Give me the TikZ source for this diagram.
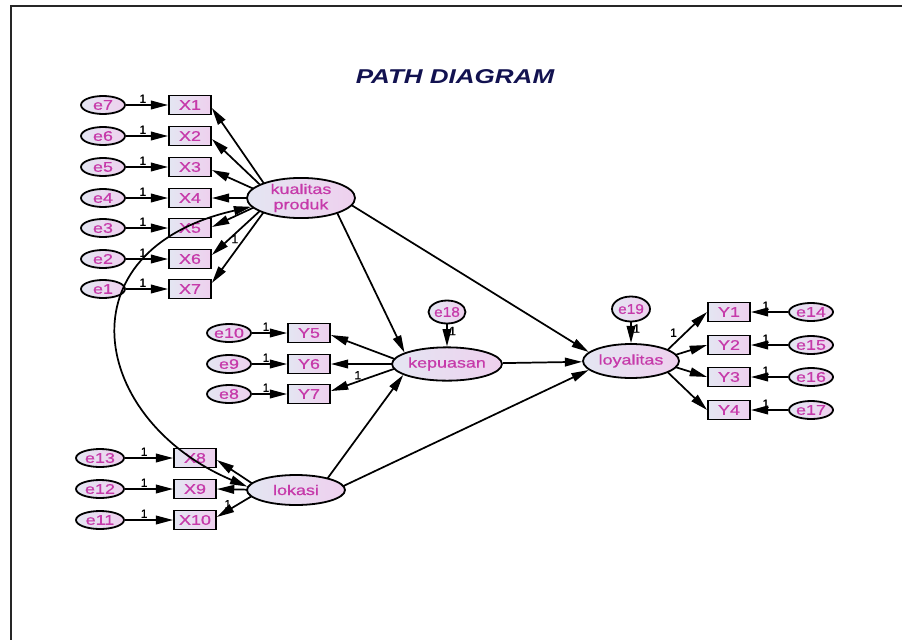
\documentclass[tikz,border=0pt]{standalone}
\usepackage{fontspec}
\setmainfont{Liberation Sans}
\newfontfamily\amosfont[FakeBold=0.7]{Liberation Sans}
\usetikzlibrary{arrows.meta,shapes.geometric,backgrounds,calc}
\definecolor{txt}{RGB}{198,58,170}
\definecolor{fillL}{RGB}{228,230,242}
\definecolor{fillR}{RGB}{238,208,238}
\definecolor{navy}{RGB}{18,18,80}
\newcommand{\sx}[1]{\scalebox{1.28}[1]{#1}}
\begin{document}
\begin{tikzpicture}[x=0.75pt,y=-0.75pt,
  every node/.style={font=\amosfont\fontsize{10.5}{11.5}\selectfont, text=txt},
  base/.style={draw=black, line width=1.35pt, left color=fillL, right color=fillR, inner sep=0pt},
  obs/.style={base, rectangle, minimum width=31.5pt, minimum height=14.25pt},
  err/.style={base, ellipse, minimum width=33pt, minimum height=13.5pt},
  lat/.style={base, ellipse, minimum width=80pt, minimum height=26pt},
  one/.style={font=\amosfont\fontsize{9}{10}\selectfont, text=black, inner sep=1pt},
  arr/.style={-{Triangle[length=13pt,width=6.5pt]}, line width=1.3pt, black},
  cov/.style={{Triangle[length=13pt,width=6.5pt]}-{Triangle[length=13pt,width=6.5pt]}, line width=1.3pt, black},
  frame/.style={line width=1.6pt, black!85}
]
\useasboundingbox (0,0) rectangle (902,639);
\draw[frame] (11,645) -- (11,6) -- (910,6);

\node[font=\fontsize{15}{16}\selectfont\bfseries\itshape, text=navy] (title) at (455,77) {\scalebox{1.3}[1]{PATH DIAGRAM}};

% observed X1-X7 and errors
\foreach \i/\e/\y in {1/7/105, 2/6/136, 3/5/167, 4/4/198, 5/3/228, 6/2/259, 7/1/289}{
  \node[obs] (X\i) at (190,\y) {\sx{X\i}};
  \node[err] (e\e) at (103,\y) {\sx{e\e}};
}
% X8-X10
\foreach \i/\e/\y in {8/13/458, 9/12/489, 10/11/520}{
  \node[obs] (X\i) at (195,\y) {\sx{X\i}};
  \node[err, minimum width=36pt] (e\e) at (100,\y) {\sx{e\e}};
}
% Y5-Y7
\foreach \i/\e/\y in {5/10/333, 6/9/364, 7/8/394}{
  \node[obs] (Y\i) at (309,\y) {\sx{Y\i}};
  \node[err] (e\e) at (229,\y) {\sx{e\e}};
}
% Y1-Y4
\foreach \i/\e/\y in {1/14/312, 2/15/345, 3/16/377, 4/17/410}{
  \node[obs] (Y\i) at (729,\y) {\sx{Y\i}};
  \node[err] (e\e) at (811,\y) {\sx{e\e}};
}

% latent
\node[lat, align=center, minimum width=81pt] (kp) at (301,198) {\sx{kualitas}\\\sx{produk}};
\node[lat, minimum width=82pt, minimum height=25pt] (kep) at (447,364) {\sx{kepuasan}};
\node[lat, minimum width=72pt, minimum height=25.5pt] (loy) at (631,361) {\sx{loyalitas}};
\node[lat, minimum width=73.5pt, minimum height=22.5pt] (lk) at (296,490) {\sx{lokasi}};
\node[err, minimum width=27.75pt, minimum height=17.25pt] (e18) at (447,312) {\scalebox{1.1}[1]{e18}};
\node[err, minimum width=28.5pt, minimum height=18.75pt] (e19) at (631,309) {\scalebox{1.1}[1]{e19}};

\begin{scope}[on background layer]
  \coordinate (kpc) at ($(kp.center)+(-27,0)$);
  \draw[arr] (kpc) -- ($(X1.east)+(0,3)$);
  \draw[arr] (kpc) -- ($(X2.east)+(0,3)$);
  \draw[arr] (kpc) -- ($(X3.east)+(0,3)$);
  \draw[arr] (kpc) -- (X4.east);
  \draw[arr] (kpc) -- ($(X5.east)+(0,-1)$);
  \draw[arr] (kpc) -- node[one, pos=0.72, right]{1} ($(X6.east)+(0,-4)$);
  \draw[arr] (kpc) -- ($(X7.east)+(0,-6)$);

  \coordinate (lkc) at ($(lk.center)+(-34,0)$);
  \draw[arr] (lkc) -- ($(X8.east)+(0,2)$);
  \draw[arr] (lkc) -- (X9.east);
  \draw[arr] (lkc) -- node[one, pos=0.76, above]{1} ($(X10.east)+(0,-3)$);

  \coordinate (kepc) at ($(kep.center)+(-39,0)$);
  \draw[arr] (kepc) -- ($(Y5.east)+(0,2)$);
  \draw[arr] (kepc) -- (Y6.east);
  \draw[arr] (kepc) -- node[one, pos=0.65, above]{1} ($(Y7.east)+(0,-3)$);

  \coordinate (loyc) at ($(loy.center)+(25,0)$);
  \draw[arr] (loyc) -- node[one, pos=0.45, above left]{1} (Y1.west);
  \draw[arr] (loyc) -- (Y2.west);
  \draw[arr] (loyc) -- (Y3.west);
  \draw[arr] (loyc) -- (Y4.west);

  \draw[arr] ($(kp.center)+(29,0)$) -- (kep.165);
  \draw[arr] ($(kp.center)+(39,0)$) -- (loy.168);
  \draw[arr] ($(lk.center)+(23,0)$) -- (kep.194);
  \draw[arr] ($(lk.center)+(39,0)$) -- (loy.192);
  \draw[arr] (kep) -- (loy);
\end{scope}

% error arrows
\foreach \i/\e in {1/7, 2/6, 3/5, 4/4, 5/3, 6/2, 7/1, 8/13, 9/12, 10/11}{
  \draw[arr] (e\e) -- node[one, pos=0.4, above]{1} (X\i);
}
\foreach \i/\e in {5/10, 6/9, 7/8}{
  \draw[arr] (e\e) -- node[one, pos=0.4, above]{1} (Y\i);
}
\foreach \i/\e in {1/14, 2/15, 3/16, 4/17}{
  \draw[arr] (e\e) -- node[one, pos=0.6, above]{1} (Y\i);
}
\draw[arr] (e18) -- node[one, pos=0.3, right]{1} (kep);
\draw[arr] (e19) -- node[one, pos=0.3, right]{1} (loy);

% covariance
\draw[cov] (kp.190) .. controls (60,250) and (90,420) .. (lk.176);
\end{tikzpicture}
\end{document}
